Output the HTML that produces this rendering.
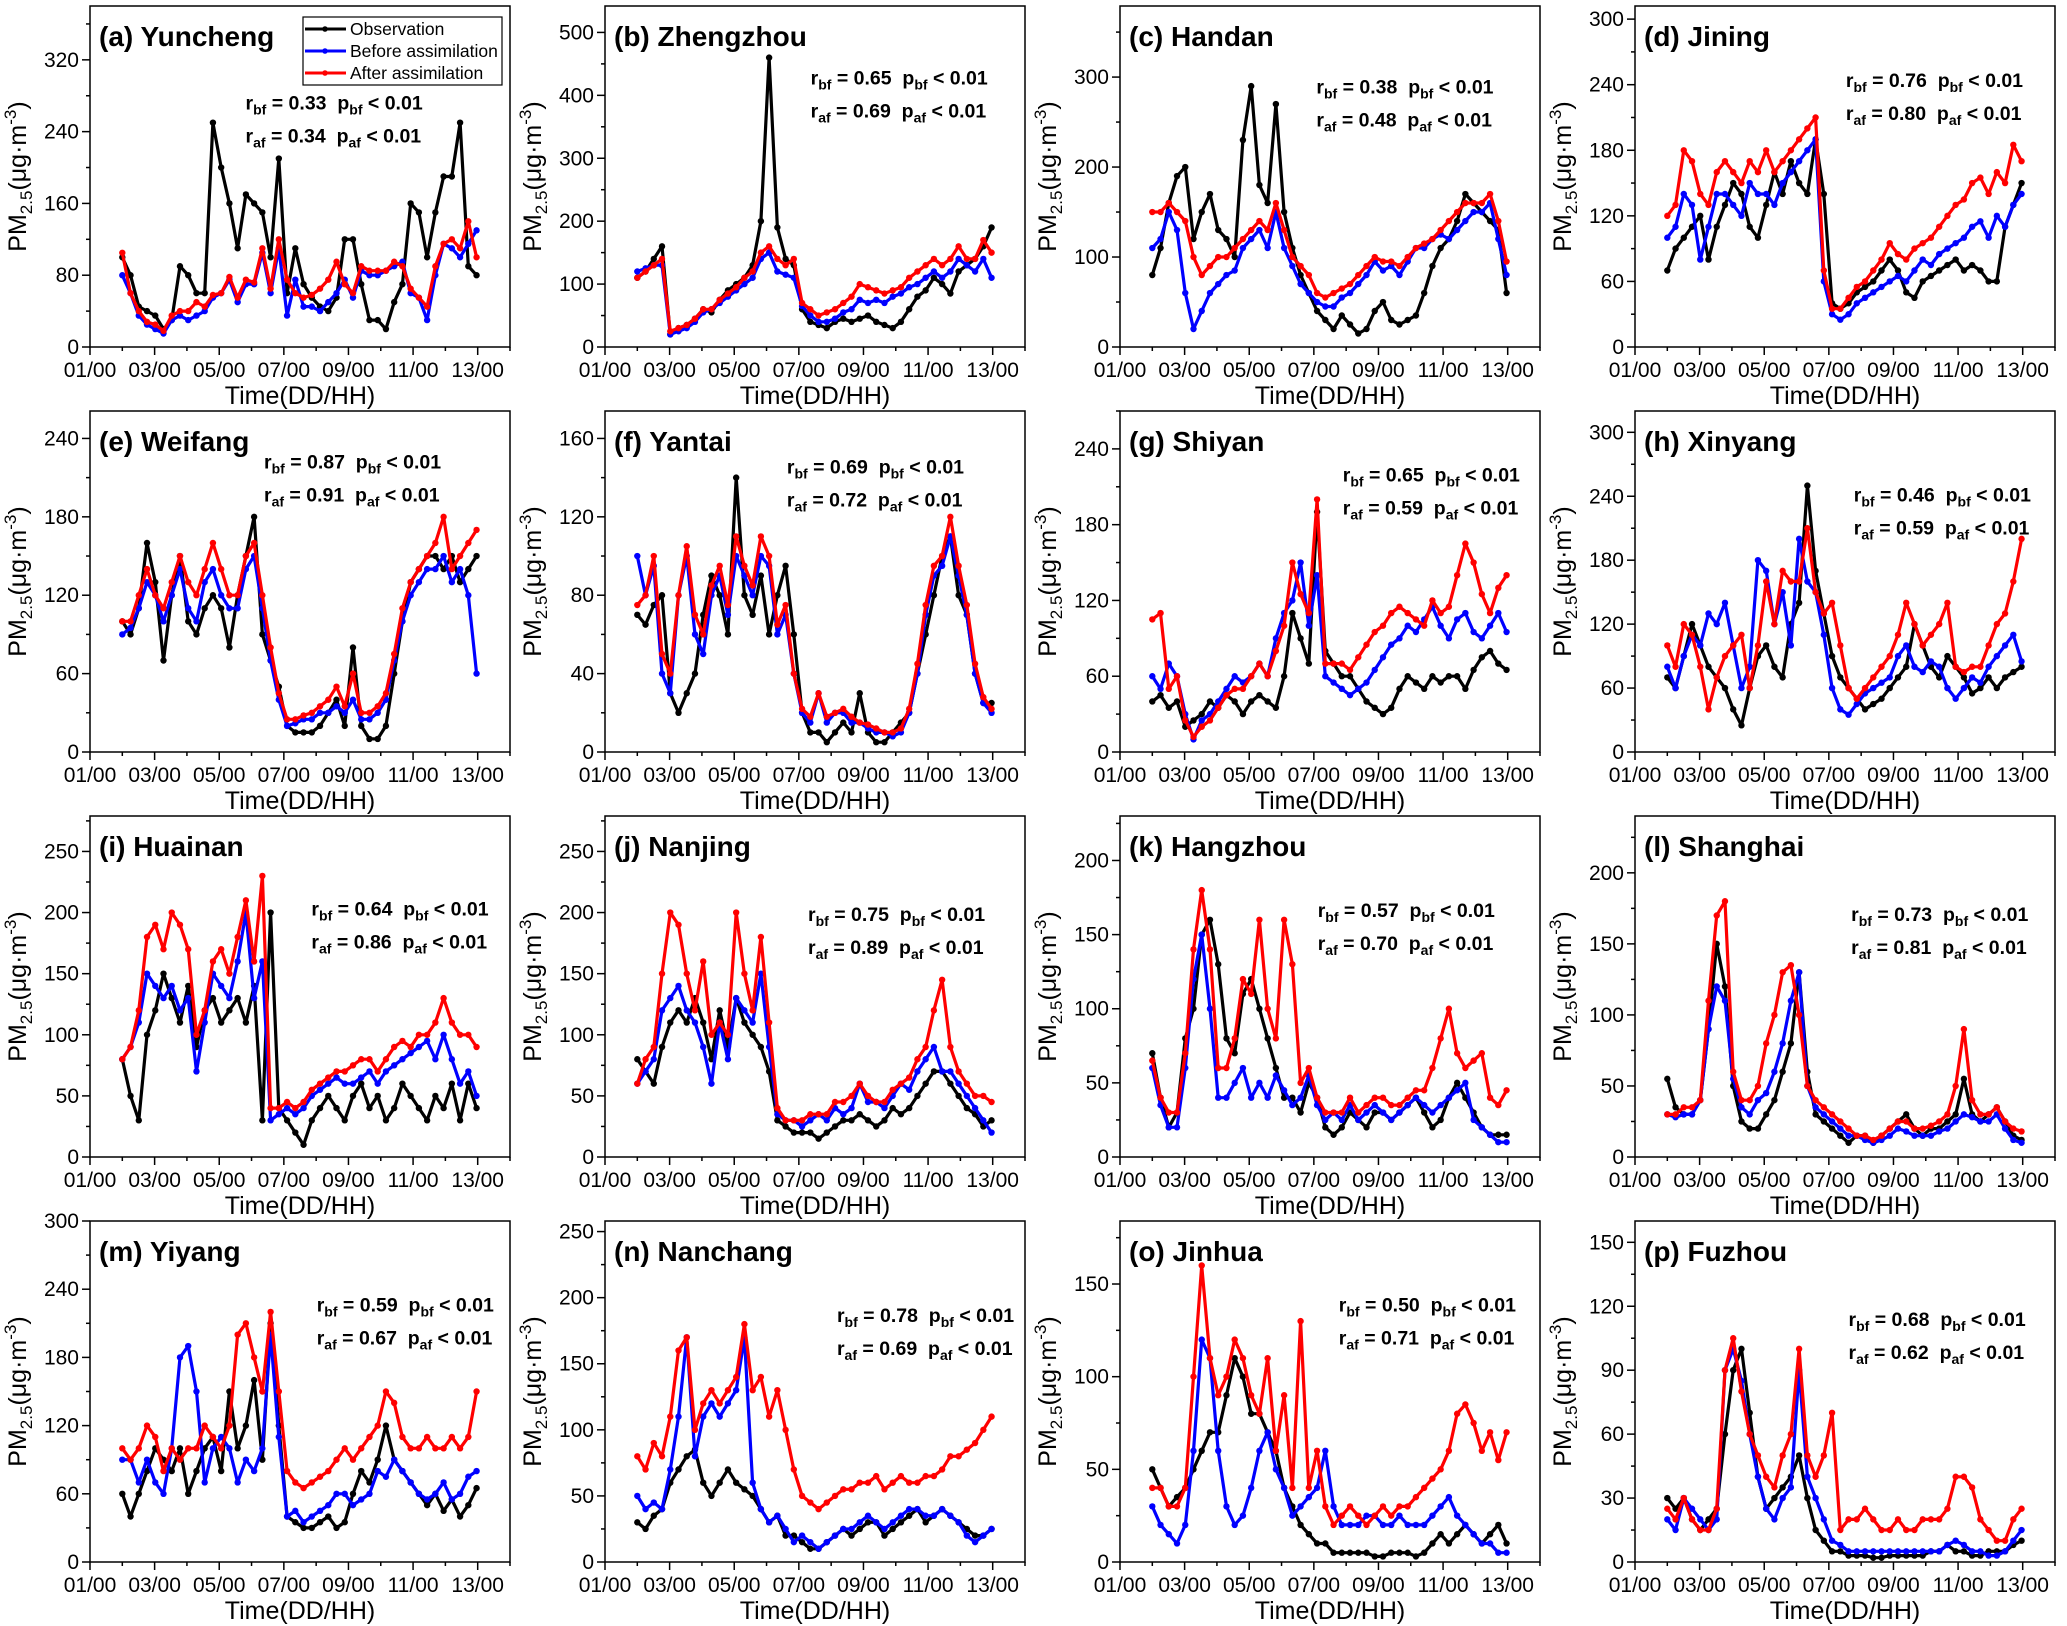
<!DOCTYPE html>
<html><head><meta charset="utf-8"><style>
body{margin:0;background:#fff}
svg{display:block;font-family:"Liberation Sans",sans-serif}
.stat{white-space:pre}
</style></head><body>
<svg id="chart" width="2067" height="1626" viewBox="0 0 2067 1626" xmlns="http://www.w3.org/2000/svg"></svg>
<script>
const panelTitles=["(a) Yuncheng","(b) Zhengzhou","(c) Handan","(d) Jining","(e) Weifang","(f) Yantai","(g) Shiyan","(h) Xinyang","(i) Huainan","(j) Nanjing","(k) Hangzhou","(l) Shanghai","(m) Yiyang","(n) Nanchang","(o) Jinhua","(p) Fuzhou"];
const yMaxes=[380,542,379,312,261,174,270,320,279,279,230,240,300,258,184,160];
const yTickSteps=[80,100,100,60,60,40,60,60,50,50,50,50,60,50,50,30];
const yTickTops=[320,500,300,300,240,160,240,300,250,250,200,200,300,250,150,150];
const rbf=["0.33","0.65","0.38","0.76","0.87","0.69","0.65","0.46","0.64","0.75","0.57","0.73","0.59","0.78","0.50","0.68"];
const raf=["0.34","0.69","0.48","0.80","0.91","0.72","0.59","0.59","0.86","0.89","0.70","0.81","0.67","0.69","0.71","0.62"];
const xTickLabels=["01/00","03/00","05/00","07/00","09/00","11/00","13/00"];
const xTickDays=[1,3,5,7,9,11,13];
const sampleStartDay=2, sampleStepDay=0.255;
const obs=[
[100,80,45,40,35,20,30,90,80,60,60,250,200,160,110,170,160,150,100,210,60,110,70,55,45,40,55,120,120,70,30,30,20,50,70,160,150,100,150,190,190,250,90,80],
[110,120,140,160,20,30,35,45,60,55,75,90,100,110,130,200,460,190,140,130,60,40,35,30,40,45,40,45,50,40,35,30,40,60,80,90,110,100,85,120,130,140,160,190],
[80,110,160,190,200,120,150,170,130,120,100,230,290,180,160,270,150,110,80,60,40,30,20,35,25,15,20,40,50,30,25,30,35,60,90,110,120,140,170,160,150,140,130,60],
[70,90,100,110,120,80,110,130,150,140,110,100,130,160,140,170,150,140,190,140,40,35,40,50,55,60,70,80,70,50,45,60,65,70,75,80,70,75,70,60,60,110,130,150],
[100,90,110,160,130,70,120,150,100,90,110,120,110,80,120,150,180,90,70,50,20,15,15,15,20,30,40,20,80,20,10,10,20,60,100,130,140,150,150,140,150,130,140,150],
[70,65,75,80,30,20,30,40,70,90,80,60,140,80,70,90,60,80,95,60,20,10,10,5,10,15,10,30,10,5,5,10,15,20,40,60,80,100,110,80,70,40,25,25],
[40,45,35,40,20,25,30,40,35,45,40,30,40,45,40,35,60,110,90,70,190,80,70,60,60,50,40,35,30,35,50,60,55,50,60,55,60,60,50,65,75,80,70,65],
[70,60,90,120,100,80,70,60,40,25,60,90,100,80,70,120,140,250,170,130,90,70,60,50,40,45,50,60,70,80,120,100,80,70,90,80,70,55,60,70,60,70,75,80],
[80,50,30,100,120,150,130,110,140,90,120,130,110,120,130,110,140,30,200,40,30,20,10,30,40,50,40,30,50,60,40,50,30,40,60,50,40,30,50,40,60,30,60,40],
[80,70,60,90,110,120,110,130,110,80,120,90,130,110,100,90,70,30,25,20,20,20,15,20,25,30,30,35,30,25,30,40,35,40,50,60,70,70,60,50,40,35,25,30],
[70,40,20,30,80,100,150,160,130,80,70,110,120,100,80,60,40,40,30,50,40,20,15,20,30,25,20,30,30,25,30,35,40,30,20,25,40,50,40,30,20,15,15,15],
[55,35,30,30,40,90,150,120,50,25,20,20,30,40,60,80,130,60,30,25,20,15,10,15,15,10,15,20,25,30,20,15,20,20,25,30,55,30,25,30,35,25,15,12],
[60,40,60,80,100,90,80,100,60,80,100,110,80,150,100,120,160,90,210,120,40,35,30,30,35,40,30,35,60,80,70,90,120,90,80,70,60,50,60,45,55,40,50,65],
[30,25,35,40,60,70,80,85,60,50,60,70,60,55,50,40,30,35,20,20,15,10,10,15,20,25,20,25,30,30,20,25,30,35,40,30,35,40,35,30,25,20,20,25],
[50,40,30,35,40,50,60,70,70,90,110,100,80,80,70,60,40,30,20,15,10,10,5,5,5,5,5,3,3,5,5,5,3,5,10,15,10,15,20,15,10,15,20,10],
[30,25,30,20,15,20,25,60,90,100,70,40,25,30,35,40,50,30,15,10,5,5,3,3,3,2,2,3,3,3,3,3,5,5,8,5,5,3,3,5,5,5,8,10]];
const before=[
[80,60,35,25,20,15,30,35,30,35,40,55,60,75,50,70,70,105,60,110,35,75,45,45,40,50,60,75,55,85,80,80,85,90,95,60,55,30,80,115,110,100,115,130],
[120,125,130,130,20,25,30,40,55,60,70,80,90,100,110,140,150,120,115,110,65,50,40,40,45,55,60,75,70,75,70,80,85,95,100,110,120,110,120,140,130,120,140,110],
[110,120,150,130,60,20,40,60,70,80,85,110,120,130,110,150,110,90,70,60,50,45,45,55,60,70,80,95,85,90,80,95,110,110,120,125,120,130,140,150,150,160,120,80],
[100,110,140,130,80,110,140,140,130,120,150,140,140,130,150,160,170,180,190,60,30,25,30,40,45,50,55,60,65,60,70,80,75,85,90,95,100,110,115,100,120,110,130,140],
[90,95,110,130,120,100,120,140,110,100,130,140,120,110,110,140,150,110,70,40,20,22,25,25,30,30,35,30,40,25,25,30,40,70,100,120,130,140,140,150,130,140,120,60],
[100,80,95,40,30,80,100,60,50,80,90,70,100,90,80,100,95,60,70,40,20,15,30,15,20,20,15,15,12,10,10,8,10,20,40,70,90,95,110,90,70,40,25,20],
[60,50,70,60,30,10,25,30,40,50,60,55,60,70,60,90,110,120,150,100,140,60,55,50,45,50,55,65,75,85,90,100,95,105,115,100,90,105,110,95,90,100,110,95],
[80,60,90,110,100,130,120,140,100,60,80,180,170,120,150,100,200,160,150,110,60,40,35,45,55,60,65,70,90,100,80,75,85,80,60,50,60,70,65,80,90,100,110,85],
[80,90,110,150,140,130,140,120,130,70,110,150,140,130,160,200,130,160,30,35,40,35,40,50,55,60,65,60,60,65,70,60,70,75,80,85,90,95,80,100,80,60,70,50],
[60,70,80,120,130,140,120,110,90,60,110,80,130,120,110,150,90,35,30,30,25,30,35,30,40,35,40,60,45,45,40,50,60,55,70,80,90,70,70,60,50,40,30,20],
[60,35,20,20,60,120,150,100,40,40,50,60,40,50,40,55,45,35,40,55,35,25,30,25,35,25,30,35,30,25,30,35,40,35,30,35,40,45,50,25,20,15,10,10],
[30,28,30,30,40,90,120,110,55,35,30,40,45,60,80,110,130,50,35,30,25,20,15,15,12,10,12,15,20,18,15,15,15,18,20,25,30,28,25,25,30,20,12,10],
[90,90,70,90,70,60,100,180,190,150,70,100,110,100,70,90,80,100,200,110,40,45,35,40,45,50,60,60,50,55,60,80,75,90,80,70,60,55,60,70,55,60,75,80],
[50,40,45,40,70,110,170,80,110,120,110,120,130,170,60,40,30,35,25,15,20,15,10,15,20,25,25,30,35,30,25,30,35,40,40,35,35,40,35,30,20,15,20,25],
[30,20,15,10,20,60,120,110,60,30,20,25,40,60,70,50,40,25,30,35,40,60,30,20,20,20,25,25,20,20,25,20,20,20,25,30,35,25,20,15,10,10,5,5],
[20,15,30,25,20,15,20,90,100,85,60,40,25,20,30,35,90,40,30,20,10,8,5,5,5,5,5,5,5,5,5,5,5,5,8,10,8,5,5,3,3,5,10,15]];
const after=[
[105,60,40,28,25,18,35,40,40,50,45,58,60,78,55,75,72,110,65,120,75,60,55,58,65,75,95,70,60,90,85,85,85,95,90,65,55,45,90,115,120,110,140,100],
[110,120,130,140,25,30,35,45,60,60,75,85,95,110,120,150,160,140,130,140,70,60,50,55,60,70,80,100,95,90,85,90,95,110,120,130,140,130,140,160,140,140,170,150],
[150,150,160,150,140,100,80,90,100,100,110,120,130,140,130,160,130,100,90,80,60,55,60,65,70,80,90,100,95,95,90,100,110,115,120,130,140,150,160,160,160,170,140,95],
[120,130,180,170,140,130,160,170,160,150,170,160,180,160,170,180,190,200,210,70,35,35,45,55,60,70,80,95,85,80,90,95,100,110,120,130,135,150,155,140,160,150,185,170],
[100,100,120,140,120,110,130,150,130,120,140,160,140,120,120,150,160,120,80,45,25,25,28,30,35,40,50,35,60,30,30,35,45,75,110,130,140,150,160,180,140,150,160,170],
[75,80,100,50,40,80,105,70,60,85,95,75,110,95,85,110,100,65,75,40,22,18,30,18,20,22,18,15,14,12,10,10,12,22,45,75,95,100,120,95,75,45,28,22],
[105,110,50,60,25,12,20,25,35,45,50,50,60,70,60,80,100,150,125,110,200,70,70,70,65,75,85,95,100,110,115,110,105,100,120,110,115,140,165,150,125,110,130,140],
[100,80,120,110,80,40,70,90,100,110,60,100,160,120,170,160,160,210,150,130,140,100,60,50,60,70,80,90,110,140,120,100,110,120,140,80,75,80,80,100,120,130,160,200],
[80,90,120,180,190,170,200,190,170,100,120,160,170,150,180,210,160,230,40,40,45,40,45,55,60,65,70,70,75,80,80,70,80,90,95,90,100,100,110,130,110,100,100,90],
[60,80,90,150,200,190,150,120,160,100,110,100,200,150,120,180,110,40,30,30,30,35,35,35,45,45,50,60,50,45,45,55,60,65,80,90,120,145,90,70,60,50,50,45],
[65,40,30,30,70,140,180,140,60,60,80,120,110,160,100,80,160,130,50,60,40,30,30,30,40,30,35,40,40,35,35,40,45,45,60,80,100,70,60,65,70,40,35,45],
[30,30,35,35,40,110,170,180,60,40,40,50,80,100,130,135,100,50,40,35,30,25,20,15,15,12,15,20,25,25,20,20,22,25,30,50,90,40,30,30,35,25,20,18],
[100,90,100,120,110,80,100,90,100,100,120,110,100,120,200,210,180,150,220,150,80,70,65,70,75,80,90,100,90,100,110,120,150,140,110,100,100,110,100,100,110,100,110,150],
[80,70,90,80,110,160,170,100,120,130,120,130,140,180,130,140,110,130,100,70,50,45,40,45,50,55,55,60,60,65,55,60,65,60,60,65,65,70,80,80,85,90,100,110],
[40,40,30,30,40,100,160,110,90,100,120,110,90,80,110,60,90,40,130,40,60,30,20,25,30,25,20,25,30,25,30,30,35,40,45,50,60,80,85,75,60,70,55,70],
[25,20,30,20,15,15,25,90,105,80,60,50,40,35,50,60,100,50,40,50,70,15,20,20,25,20,15,15,20,15,15,20,20,20,25,40,40,35,20,15,10,10,20,25]];
const statsDX=[118,156,149,160,132,138,169,166,168,154,150,164,172,176,166,162];
const statsDY=[74,55,62,57,39,43,49,64,71,75,72,75,64,72,64,75];

const NS="http://www.w3.org/2000/svg";
const svg=document.getElementById('chart');
function mk(tag,attrs,parent){const e=document.createElementNS(NS,tag);for(const k in attrs)e.setAttribute(k,attrs[k]);(parent||svg).appendChild(e);return e;}
const S=1.318;
const W=420,H=341;
const colors=["#000000","#0000ff","#ff0000"];
const seriesNames=["observation","before-assimilation","after-assimilation"];

for(let p=0;p<16;p++){
  const col=p%4,row=Math.floor(p/4);
  const L=90+col*515,T=6+row*405,B=T+H,R=L+W;
  const g=mk('g',{});
  
  
  const xs=d=>L+(d-1)/13*W;
  const ys=v=>B-v/yMaxes[p]*H;
  const step=yTickSteps[p];
  for(let v=0;v<=yMaxes[p];v+=step/2){
    const major=Math.abs((v/step)-Math.round(v/step))<1e-6;
    mk('line',{x1:L,x2:L-(major?8:4),y1:ys(v),y2:ys(v),stroke:'#000','stroke-width':1.5},g);
    if(major&&v<=yTickTops[p]){
      const t=mk('text',{x:L-11,y:ys(v)+7,'text-anchor':'end','font-size':21},g);
      t.textContent=v;
      
      
    }
  }
  for(let d=1;d<=14;d+=1){
    const major=(d%2===1);
    mk('line',{x1:xs(d),x2:xs(d),y1:B,y2:B+(major?8:4),stroke:'#000','stroke-width':1.5},g);
  }
  xTickLabels.forEach((lab,i)=>{
    const t=mk('text',{x:xs(xTickDays[i]),y:B+30,'text-anchor':'middle','font-size':21},g);
    t.textContent=lab;
    
    
  });
  const xt=mk('text',{x:(L+R)/2,y:B+57,'text-anchor':'middle','font-size':25},g);
  xt.textContent='Time(DD/HH)';
  
  
  const yt=mk('text',{x:0,y:0,'text-anchor':'middle','font-size':25,transform:`translate(${L-64},${(T+B)/2}) rotate(-90)`},g);
  yt.innerHTML='PM<tspan font-size="17" dy="6">2.5</tspan><tspan dy="-6">(μg·m</tspan><tspan font-size="17" dy="-10">-3</tspan><tspan dy="10">)</tspan>';
  
  
  const data=[obs[p],before[p],after[p]];
  data.forEach((arr,si)=>{
    const pts=arr.map((v,i)=>xs(sampleStartDay+i*sampleStepDay).toFixed(1)+','+ys(v).toFixed(1)).join(' ');
    const pl=mk('polyline',{points:pts,fill:'none',stroke:colors[si],'stroke-width':3.2,'stroke-linejoin':'round'},g);
    
    
    arr.forEach((v,i)=>{
      const c=mk('circle',{cx:xs(sampleStartDay+i*sampleStepDay),cy:ys(v),r:3.2,fill:colors[si]},g);
      
      
    });
  });
  const fr=mk('rect',{x:L,y:T,width:W,height:H,fill:'none',stroke:'#000','stroke-width':1.5},g);
  
  
  const tt=mk('text',{x:L+9,y:T+40,'font-size':28,'font-weight':'bold'},g);
  tt.textContent=panelTitles[p];
  
  
  const sx=L+statsDX[p]*S,sy=T+statsDY[p]*S;
  const s1=mk('text',{x:sx,y:sy+6,'font-size':19.5,'font-weight':'bold','class':'stat'},g);
  s1.innerHTML='r<tspan font-size="14" dy="5">bf</tspan><tspan dy="-5"> = '+rbf[p]+'  p</tspan><tspan font-size="14" dy="5">bf</tspan><tspan dy="-5"> &lt; 0.01</tspan>';
  
  
  const s2=mk('text',{x:sx,y:sy+39,'font-size':19.5,'font-weight':'bold','class':'stat'},g);
  s2.innerHTML='r<tspan font-size="14" dy="5">af</tspan><tspan dy="-5"> = '+raf[p]+'  p</tspan><tspan font-size="14" dy="5">af</tspan><tspan dy="-5"> &lt; 0.01</tspan>';
  
  
}
const lg=mk('g',{});


mk('rect',{x:303,y:17,width:199,height:68,fill:'#fff',stroke:'#000','stroke-width':1.2},lg);
["Observation","Before assimilation","After assimilation"].forEach((n,i)=>{
  const y=29+i*22;
  mk('line',{x1:305,x2:346,y1:y,y2:y,stroke:colors[i],'stroke-width':3},lg);
  mk('circle',{cx:325,cy:y,r:2.8,fill:colors[i]},lg);
  const t=mk('text',{x:350,y:y+6,'font-size':17.5},lg);
  t.textContent=n;
  
  
});
</script>
</body></html>
